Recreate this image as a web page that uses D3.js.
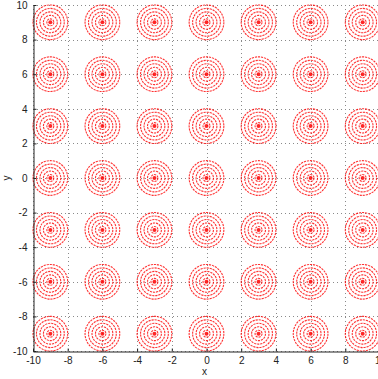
<!DOCTYPE html>
<html>
<head>
<meta charset="utf-8">
<script src="https://cdn.jsdelivr.net/npm/d3@7"></script>
<style>
  html, body { margin: 0; padding: 0; background: #fff; overflow: hidden; }
  text { font-family: "Liberation Sans", Arial, sans-serif; }
</style>
</head>
<body>
<svg id="chart" width="378" height="379"></svg>
<script>
// Ring targets laid out on a regular lattice
const centersX = [-9, -6, -3, 0, 3, 6, 9];
const centersY = [-9, -6, -3, 0, 3, 6, 9];
const ringRadii = [0.2, 0.4, 0.6, 0.8, 1.0];
const xTicks = [-10, -8, -6, -4, -2, 0, 2, 4, 6, 8, 10];
const yTicks = [-10, -8, -6, -4, -2, 0, 2, 4, 6, 8, 10];

const svg = d3.select("#chart");
const plot = { left: 33, right: 380, top: 5, bottom: 351 };

const x = d3.scaleLinear().domain([-10, 10]).range([plot.left, plot.right]);
const y = d3.scaleLinear().domain([-10, 10]).range([plot.bottom, plot.top]);

// dotted grid
const grid = svg.append("g").attr("stroke", "#8a8a8a").attr("stroke-width", 1)
  .attr("stroke-dasharray", "1,3");
xTicks.forEach(t => {
  grid.append("line").attr("x1", Math.round(x(t)) + 0.5).attr("x2", Math.round(x(t)) + 0.5)
    .attr("y1", plot.top).attr("y2", plot.bottom);
});
yTicks.forEach(t => {
  grid.append("line").attr("x1", plot.left).attr("x2", plot.right)
    .attr("y1", Math.round(y(t)) + 0.5).attr("y2", Math.round(y(t)) + 0.5);
});

// concentric rings
const centers = [];
centersX.forEach(cx => centersY.forEach(cy => centers.push({cx, cy})));
const rings = svg.append("g");
centers.forEach(c => {
  ringRadii.forEach(r => {
    rings.append("circle")
      .attr("cx", x(c.cx)).attr("cy", y(c.cy))
      .attr("r", x(r) - x(0))
      .attr("fill", "none")
      .attr("stroke", "#ff0000")
      .attr("stroke-opacity", 0.8)
      .attr("stroke-width", 1.1)
      .attr("stroke-dasharray", "2.2,0.9");
  });
  rings.append("circle")
    .attr("cx", x(c.cx)).attr("cy", y(c.cy))
    .attr("r", 2).attr("fill", "#ff0000").attr("fill-opacity", 0.85);
});

// axes
const fmt = d => String(d);
const xAxis = d3.axisBottom(x).tickValues(xTicks).tickFormat(fmt).tickSizeInner(-3).tickSizeOuter(0).tickPadding(5);
const yAxis = d3.axisLeft(y).tickValues(yTicks).tickFormat(fmt).tickSizeInner(-3).tickSizeOuter(0).tickPadding(6);

const gx = svg.append("g").attr("transform", `translate(0,${plot.bottom + 0.5})`).call(xAxis);
const gy = svg.append("g").attr("transform", `translate(${plot.left + 0.5},0)`).call(yAxis);
[gx, gy].forEach(g => {
  g.select(".domain").attr("stroke", "#222");
  g.selectAll(".tick line").attr("stroke", "#222");
  g.selectAll("text").attr("fill", "#222").attr("font-size", 10);
});

svg.append("text").attr("x", (plot.left + plot.right) / 2 - 2).attr("y", 375)
  .attr("text-anchor", "middle").attr("font-size", 10).attr("fill", "#222").text("x");
svg.append("text").attr("transform", `translate(10,${(plot.top + plot.bottom) / 2}) rotate(-90)`)
  .attr("text-anchor", "middle").attr("font-size", 10).attr("fill", "#222").text("y");
</script>
</body>
</html>
